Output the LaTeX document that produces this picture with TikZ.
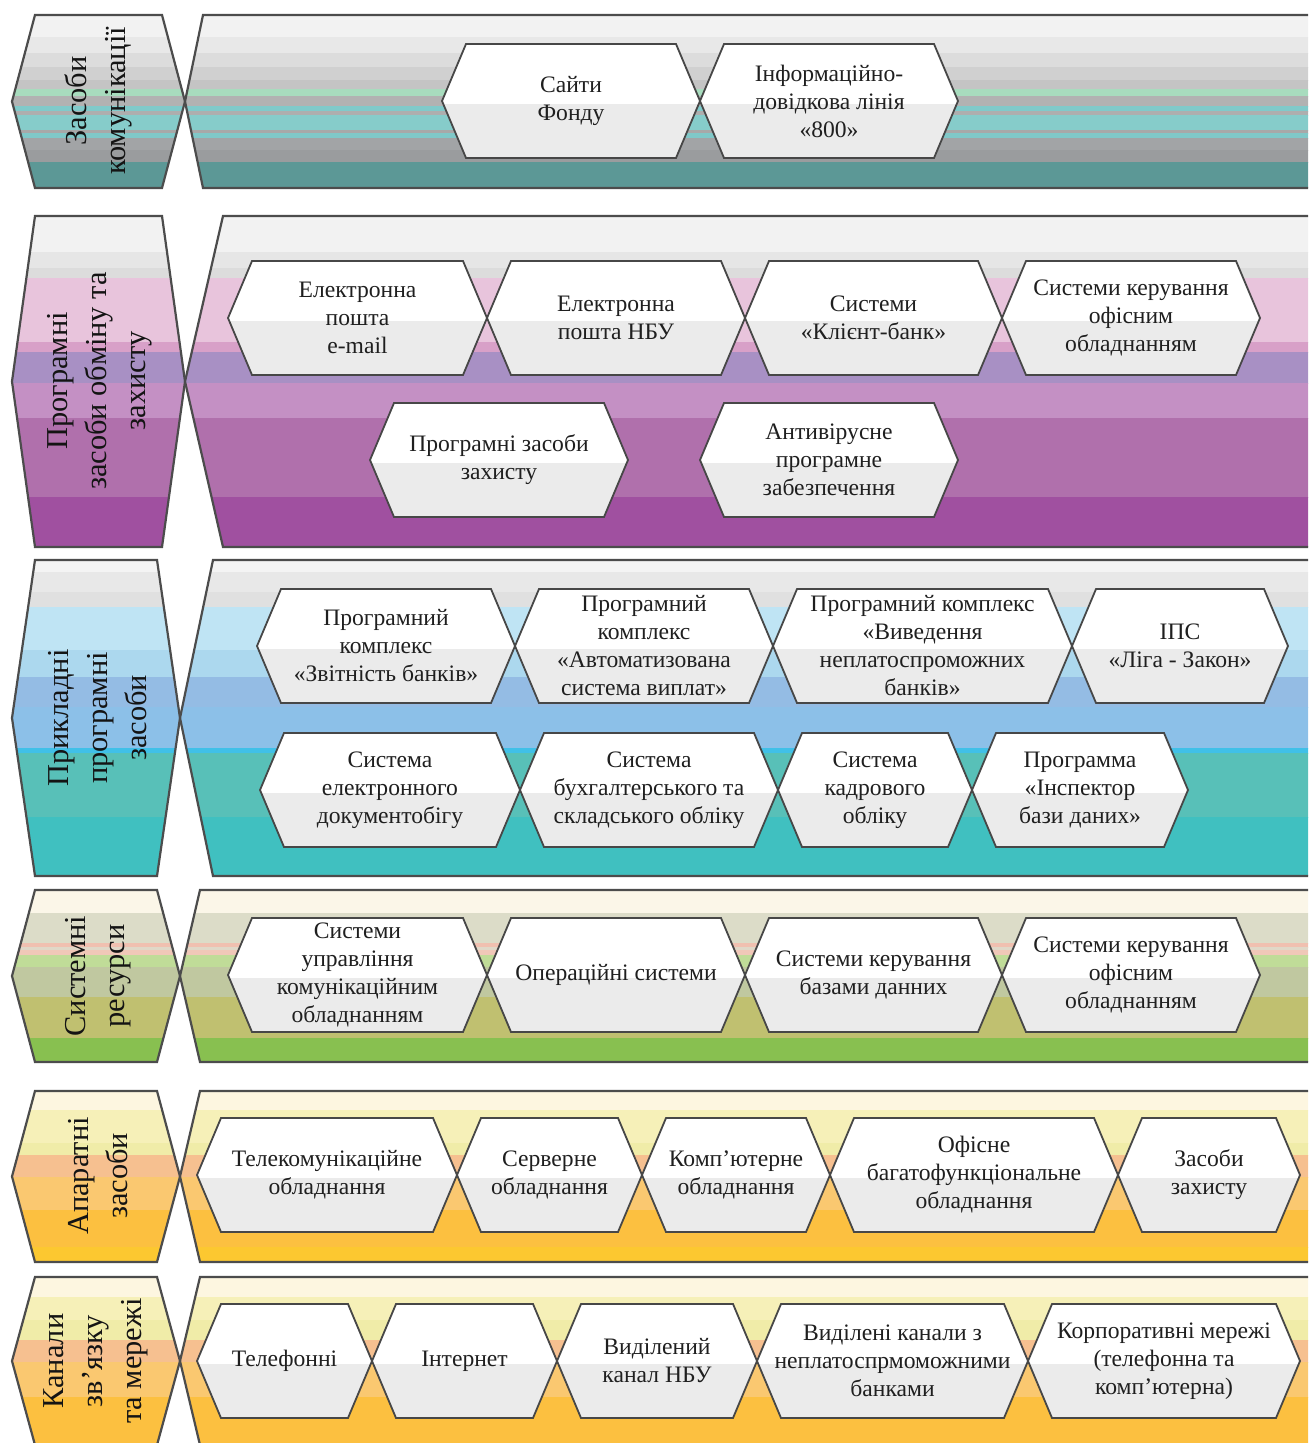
\documentclass[tikz,border=0pt]{standalone}
\usepackage{fontspec}
\setmainfont{Liberation Serif}
\begin{document}
\begin{tikzpicture}[x=0.5pt,y=-0.5pt,
  hexline/.style={draw=black!72,line width=0.9pt,line join=miter},
  bandline/.style={draw=black!70,line width=1.1pt,line join=miter},
  hextext/.style={align=center,text=black!88,font=\fontsize{11.8}{14}\selectfont,inner sep=0pt},
  labtext/.style={align=center,text=black!92,rotate=90,font=\fontsize{15.2}{19.5}\selectfont,inner sep=0pt}]
\definecolor{hexlow}{HTML}{EBEBEB}
\newcommand\strip[3]{\definecolor{tmpc}{HTML}{#3}\fill[tmpc] (0,#1) rectangle (1320,#2+1);}
\newcommand\rowbg[6]{%
  \pgfmathsetmacro\rmid{(#1+#2)/2}%
  \begin{scope}
    \clip (12,\rmid) -- (35,#1) -- (#3,#1) -- (#4,\rmid) -- (#3,#2) -- (35,#2) -- cycle
          (#5,#1) -- (#4,\rmid) -- (#5,#2) -- (1320,#2) -- (1320,#1) -- cycle;
    \foreach \a/\b/\c in {#6} {\strip{\a}{\b}{\c}}
  \end{scope}
  \draw[bandline] (12,\rmid) -- (35,#1) -- (#3,#1) -- (#4,\rmid) -- (#3,#2) -- (35,#2) -- cycle;
  \draw[bandline] (1320,#1) -- (#5,#1) -- (#4,\rmid) -- (#5,#2) -- (1320,#2);
}
\newcommand\hexbox[5]{%
  \pgfmathsetmacro\ha{#2+24}\pgfmathsetmacro\hb{#3-24}%
  \begin{scope}
    \clip (#2,#4) -- (\ha,#4-57) -- (\hb,#4-57) -- (#3,#4) -- (\hb,#4+57) -- (\ha,#4+57) -- cycle;
    \fill[hexlow] (#2,#4-60) rectangle (#3,#4+60);
    \fill[white] (#2,#4-60) rectangle (#3,#4+3);
  \end{scope}
  \draw[hexline] (#2,#4) -- (\ha,#4-57) -- (\hb,#4-57) -- (#3,#4) -- (\hb,#4+57) -- (\ha,#4+57) -- cycle;
  \node[hextext] (#1) at ({(#2+#3)/2},#4) {#5};
}
\useasboundingbox (0,0) rectangle (1308,1443);
\fill[white] (0,0) rectangle (1308,1443);
\begin{scope}
\clip (0,0) rectangle (1308,1443);
% Row 1
\rowbg{15}{188}{162}{185}{203}{15/37/F2F2F2,37/53/E8E8E8,53/67/DCDCDC,67/80/D0D0D0,80/89/C4C4C4,89/96/A8DCBE,96/106/B2B2B2,106/111/80CACA,111/115/AEAEAE,115/130/86CCCA,130/133/A8A8A8,133/138/80C8C8,138/150/A2A4A6,150/162/9A9C9E,162/188/5C9896}
% Row 2
\rowbg{216}{547}{162}{185}{223}{216/252/F2F2F2,252/268/E6E6E6,268/278/DCDCDC,278/342/E8C4DC,342/352/D8A0C8,352/383/A890C4,383/418/C490C4,418/497/B070AC,497/547/A050A0}
% Row 3
\rowbg{560}{876}{157}{180}{213}{560/572/F4F4F4,572/592/E8E8E8,592/607/E0E0E0,607/650/BFE4F4,650/677/ACD8EE,677/707/94BCE4,707/748/8CC0E8,748/753/40C0E8,753/817/58C0B8,817/876/40C0C0}
% Row 4
\rowbg{890}{1062}{157}{180}{200}{890/913/FBF6E8,913/943/DCDCC8,943/947/F0C0B0,947/950/E0D8C8,950/955/F0C8B8,955/967/C0DC98,967/997/C0C8A0,997/1038/C0C070,1038/1062/88C050}
% Row 5
\rowbg{1091}{1262}{157}{180}{200}{1091/1110/FDF6E0,1110/1143/F6F0B8,1143/1155/F0ECA8,1155/1177/F6C090,1177/1210/FAC870,1210/1247/FCC040,1247/1262/FCC830}
% Row 6
\rowbg{1277}{1445}{157}{180}{200}{1277/1297/FDF6E0,1297/1320/F6F0B8,1320/1340/F0ECA8,1340/1362/F6C090,1362/1397/FAC870,1397/1445/FCC040}
\end{scope}
% Labels
\node[labtext] (lab1) at (98,101) {Засоби\\комунікації};
\node[labtext] (lab2) at (100,381) {Програмні\\засоби обміну та\\захисту};
\node[labtext] (lab3) at (98,718) {Прикладні\\програмні\\засоби};
\node[labtext] (lab4) at (98,976) {Системні\\ресурси};
\node[labtext] (lab5) at (98,1176) {Апаратні\\засоби};
\node[labtext] (lab6) at (96,1361) {Канали\\зв’язку\\та мережі};
% Row 1
\hexbox{a1}{442}{700}{101}{Сайти\\Фонду}
\hexbox{a2}{700}{958}{101}{Інформаційно-\\довідкова лінія\\«800»}
% Row 2
\hexbox{b1}{228}{487}{318}{Електронна\\пошта\\e-mail}
\hexbox{b2}{487}{745}{318}{Електронна\\пошта НБУ}
\hexbox{b3}{745}{1002}{318}{Системи\\«Клієнт-банк»}
\hexbox{b4}{1002}{1260}{318}{Системи керування\\офісним\\обладнанням}
\hexbox{b5}{370}{628}{460}{Програмні засоби\\захисту}
\hexbox{b6}{700}{958}{460}{Антивірусне\\програмне\\забезпечення}
% Row 3
\hexbox{c1}{257}{515}{646}{Програмний\\комплекс\\«Звітність банків»}
\hexbox{c2}{515}{773}{646}{Програмний\\комплекс\\«Автоматизована\\система виплат»}
\hexbox{c3}{773}{1072}{646}{Програмний комплекс\\«Виведення\\неплатоспроможних\\банків»}
\hexbox{c4}{1072}{1288}{646}{ІПС\\«Ліга - Закон»}
\hexbox{c5}{260}{520}{790}{Система\\електронного\\документобігу}
\hexbox{c6}{520}{778}{790}{Система\\бухгалтерського та\\складського обліку}
\hexbox{c7}{778}{972}{790}{Система\\кадрового\\обліку}
\hexbox{c8}{972}{1188}{790}{Программа\\«Інспектор\\бази даних»}
% Row 4
\hexbox{d1}{228}{487}{975}{Системи\\управління\\комунікаційним\\обладнанням}
\hexbox{d2}{487}{745}{975}{Операційні системи}
\hexbox{d3}{745}{1002}{975}{Системи керування\\базами данних}
\hexbox{d4}{1002}{1260}{975}{Системи керування\\офісним\\обладнанням}
% Row 5
\hexbox{e1}{197}{457}{1175}{Телекомунікаційне\\обладнання}
\hexbox{e2}{457}{642}{1175}{Серверне\\обладнання}
\hexbox{e3}{642}{830}{1175}{Комп’ютерне\\обладнання}
\hexbox{e4}{830}{1118}{1175}{Офісне\\багатофункціональне\\обладнання}
\hexbox{e5}{1118}{1300}{1175}{Засоби\\захисту}
% Row 6
\hexbox{f1}{197}{372}{1361}{Телефонні}
\hexbox{f2}{372}{557}{1361}{Інтернет}
\hexbox{f3}{557}{757}{1361}{Виділений\\канал НБУ}
\hexbox{f4}{757}{1028}{1361}{Виділені канали з\\неплатоспрмоможними\\банками}
\hexbox{f5}{1028}{1300}{1361}{Корпоративні мережі\\(телефонна та\\комп’ютерна)}
\end{tikzpicture}
\end{document}
